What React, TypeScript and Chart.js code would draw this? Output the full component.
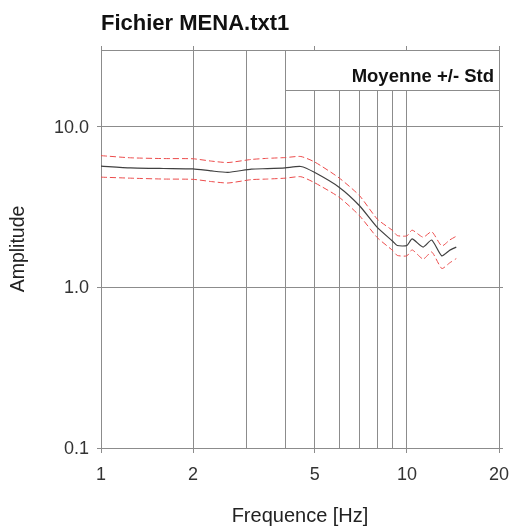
import React, { useEffect, useRef } from "react";
import { Chart, registerables } from "chart.js";

Chart.register(...registerables);

const TITLE = "Fichier MENA.txt1";
const LEGEND_TEXT = "Moyenne +/- Std";
const X_TITLE = "Frequence [Hz]";
const Y_TITLE = "Amplitude";

const freqs = [1, 1.25, 1.6, 2, 2.3, 2.6, 3.1, 3.5, 4, 4.5, 5, 6, 7, 8, 9, 9.3, 10, 10.4, 11.3, 12.05, 13, 13.8, 14.5];
const meanVals = [5.68, 5.54, 5.49, 5.46, 5.3, 5.2, 5.44, 5.48, 5.54, 5.65, 5.18, 4.2, 3.22, 2.36, 1.93, 1.82, 1.82, 2.0, 1.78, 1.97, 1.57, 1.7, 1.78];
const upperVals = [6.6, 6.4, 6.33, 6.31, 6.1, 5.98, 6.25, 6.35, 6.42, 6.52, 6.02, 4.8, 3.72, 2.66, 2.25, 2.1, 2.09, 2.27, 2.05, 2.22, 1.81, 1.97, 2.08];
const lowerVals = [4.85, 4.78, 4.72, 4.7, 4.55, 4.46, 4.68, 4.72, 4.78, 4.88, 4.47, 3.64, 2.79, 2.04, 1.69, 1.58, 1.57, 1.71, 1.5, 1.66, 1.31, 1.42, 1.51];

const xGridValues = [1, 2, 3, 4, 5, 6, 7, 8, 9, 10, 20];
const xLabelValues = [1, 2, 5, 10, 20];
const yTickValues = [0.1, 1, 10];

const FONT = "'Liberation Sans', Arial, Helvetica, sans-serif";
const GRID = "#8c8c8c";

const toPts = (vals: number[]) => freqs.map((f, i) => ({ x: f, y: vals[i] }));

const decorPlugin = {
  id: "decor",
  afterDatasetsDraw(chart: any) {
    const { ctx, chartArea } = chart;
    const xs = chart.scales.x;
    ctx.save();
    // legend box
    const left = Math.round(xs.getPixelForValue(4)) + 0.5;
    const top = chartArea.top + 0.5;
    const right = chartArea.right + 0.5;
    const h = 40;
    ctx.fillStyle = "#ffffff";
    ctx.fillRect(left, top, right - left, h);
    ctx.strokeStyle = GRID;
    ctx.lineWidth = 1;
    ctx.strokeRect(left, top, right - left, h);
    ctx.fillStyle = "#111";
    ctx.font = `bold 18.5px ${FONT}`;
    ctx.textAlign = "right";
    ctx.textBaseline = "alphabetic";
    ctx.fillText(LEGEND_TEXT, chartArea.right - 5, chartArea.top + 32);
    // title
    ctx.font = `bold 22px ${FONT}`;
    ctx.textAlign = "left";
    ctx.fillText(TITLE, chartArea.left, 30);
    ctx.restore();
  },
};

export default function App() {
  const ref = useRef<HTMLCanvasElement | null>(null);
  useEffect(() => {
    if (!ref.current) return;
    const chart = new Chart(ref.current, {
      type: "line",
      data: {
        datasets: [
          {
            label: "Std+",
            data: toPts(upperVals),
            borderColor: "#ec4b4b",
            borderWidth: 1,
            borderDash: [6, 3],
            pointRadius: 0,
            fill: false,
            tension: 0.2,
          },
          {
            label: "Moyenne",
            data: toPts(meanVals),
            borderColor: "#404040",
            borderWidth: 1.2,
            pointRadius: 0,
            fill: false,
            tension: 0.2,
          },
          {
            label: "Std-",
            data: toPts(lowerVals),
            borderColor: "#ec4b4b",
            borderWidth: 1,
            borderDash: [6, 3],
            pointRadius: 0,
            fill: false,
            tension: 0.2,
          },
        ],
      },
      options: {
        animation: false,
        responsive: false,
        maintainAspectRatio: false,
        layout: { padding: { top: 50, right: 13, left: 0, bottom: 0 } },
        plugins: { legend: { display: false }, title: { display: false }, tooltip: { enabled: false } },
        scales: {
          x: {
            type: "logarithmic",
            position: "bottom",
            min: 1,
            max: 20,
            afterBuildTicks: (s: any) => {
              s.ticks = xGridValues.map((v) => ({ value: v }));
            },
            afterFit: (s: any) => {
              s.height = 81;
              s.paddingLeft = 0;
              s.paddingRight = 0;
            },
            ticks: {
              autoSkip: false,
              maxRotation: 0,
              padding: 11,
              color: "#333",
              font: { family: FONT, size: 18 },
              callback: (v: any) => (xLabelValues.includes(Number(v)) ? String(v) : ""),
            },
            grid: {
              color: GRID,
              lineWidth: 1,
              tickLength: 5,
              tickColor: (c: any) => (c.tick && xLabelValues.includes(c.tick.value) ? GRID : "rgba(0,0,0,0)"),
            },
            border: { display: true, color: GRID },
            title: {
              display: true,
              text: X_TITLE,
              color: "#222",
              font: { family: FONT, size: 20 },
              padding: { top: 0, bottom: 0.5 },
            },
          },
          xTop: {
            type: "logarithmic",
            position: "top",
            min: 1,
            max: 20,
            afterBuildTicks: (s: any) => {
              s.ticks = xLabelValues.map((v) => ({ value: v }));
            },
            afterFit: (s: any) => {
              s.height = 0;
              s.paddingLeft = 0;
              s.paddingRight = 0;
            },
            ticks: { display: false },
            grid: { drawOnChartArea: false, color: GRID, tickLength: 4 },
            border: { display: true, color: GRID },
          },
          y: {
            type: "logarithmic",
            position: "left",
            min: 0.1,
            max: 30,
            afterBuildTicks: (s: any) => {
              s.ticks = yTickValues.map((v) => ({ value: v }));
            },
            afterFit: (s: any) => {
              s.width = 101;
              s.paddingTop = 0;
              s.paddingBottom = 0;
            },
            ticks: {
              padding: 8,
              labelOffset: 1,
              color: "#333",
              font: { family: FONT, size: 18 },
              callback: (v: any) => Number(v).toFixed(1),
            },
            grid: { color: GRID, lineWidth: 1, tickLength: 4 },
            border: { display: true, color: GRID },
            title: {
              display: true,
              text: Y_TITLE,
              color: "#222",
              font: { family: FONT, size: 19.5 },
              padding: { top: 7, bottom: 0 },
            },
          },
          yRight: {
            type: "logarithmic",
            position: "right",
            min: 0.1,
            max: 30,
            afterBuildTicks: (s: any) => {
              s.ticks = yTickValues.map((v) => ({ value: v }));
            },
            afterFit: (s: any) => {
              s.width = 0;
              s.paddingTop = 0;
              s.paddingBottom = 0;
            },
            ticks: { display: false },
            grid: { drawOnChartArea: false, color: GRID, tickLength: 4 },
            border: { display: true, color: GRID },
          },
        },
      } as any,
      plugins: [decorPlugin],
    });
    return () => chart.destroy();
  }, []);
  return (
    <div style={{ position: "absolute", left: 0, top: 0, width: 512, height: 529, background: "#fff" }}>
      <canvas ref={ref} width={512} height={529} style={{ width: 512, height: 529, display: "block" }} />
    </div>
  );
}
